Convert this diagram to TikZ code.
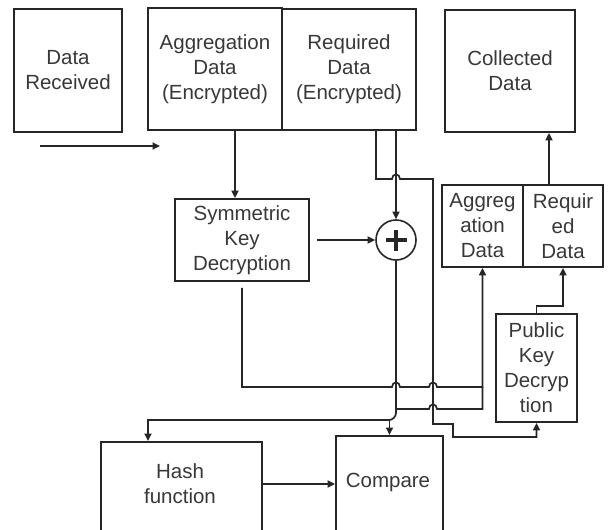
\documentclass[tikz,border=0pt]{standalone}
\usepackage{fontspec}
\setmainfont{Liberation Sans}
\usetikzlibrary{arrows.meta}
\definecolor{ink}{HTML}{262626}
\definecolor{txt}{HTML}{383838}
\begin{document}
\begin{tikzpicture}[x=1pt,y=-1pt,
  line width=1.7pt, draw=ink,
  lbl/.style={text=txt, align=center, inner sep=0pt,
    font=\fontsize{20.5}{25}\selectfont},
  box/.style={lbl, draw=ink, line width=1.8pt, rectangle},
  arr/.style={-{Triangle[length=7.5pt,width=7pt]}}
]
\useasboundingbox (0,0) rectangle (608,530);
\clip (0,0) rectangle (608,530);

% blocks
\node[box, minimum width=108pt, minimum height=123pt] (recv) at (68,70.5) {Data\\Received};
\node[box, minimum width=134pt, minimum height=122pt] (aggenc) at (215,69) {Aggregation\\Data\\(Encrypted)};
\node[box, minimum width=134pt, minimum height=121pt] (reqenc) at (349,69.5) {Required\\Data\\(Encrypted)};
\node[box, minimum width=130pt, minimum height=122pt] (coll) at (510,71) {Collected\\Data};
\node[box, minimum width=134pt, minimum height=82pt] (sym) at (242,240) {Symmetric\\Key\\Decryption};
\node[circle, draw=ink, line width=1.6pt, minimum size=40pt, inner sep=0pt] (plus) at (396,240) {};
\draw[line width=3.2pt] ([xshift=-10.5pt]plus.center) -- ([xshift=10.5pt]plus.center);
\draw[line width=3.2pt] ([yshift=-10.5pt]plus.center) -- ([yshift=10.5pt]plus.center);
\node[box, minimum width=81pt, minimum height=82pt] (aggsm) at (482.5,226) {Aggreg\\ation\\Data};
\node[box, minimum width=80pt, minimum height=82pt] (reqsm) at (563,226) {Requir\\ed\\Data};
\node[box, minimum width=81pt, minimum height=108pt] (pkd) at (536.5,368) {Public\\Key\\Decryp\\tion};
\node[box, minimum width=161pt, minimum height=130pt, anchor=north] (hash) at (181.5,441) {};
\node[lbl] (hashlbl) at (180,484) {Hash\\function};
\node[box, minimum width=107pt, minimum height=130pt, anchor=north] (cmp) at (389.5,435) {};
\node[lbl] (cmplbl) at (388,482) {Compare};

% helper points
\coordinate (inA) at (40,146);
\coordinate (inB) at (160,146);
\coordinate (symin) at ([xshift=-7pt]sym.north);
\coordinate (symout) at ([yshift=-6pt]sym.south);
\coordinate (symright) at ([xshift=7pt]sym.east);
\coordinate (rb) at ([xshift=27pt]reqenc.south);
\coordinate (split) at (cmp.north |- 0,420);
\coordinate (hin) at ([xshift=-33.5pt]hash.north);
\coordinate (rq) at ([xshift=-14pt]reqsm.north);

% connectors
\draw[arr] (inA) -- (inB);
\draw[arr] (symin |- aggenc.south) -- (symin);
\draw[arr] (symright) -- (plus.west);
\draw[arr] (plus.north |- reqenc.south) -- (plus.north);

% required data branch towards public key decryption
\draw[arr] (rb) -- (376,179) -- (392,179)
  .. controls (392,173) and (400,173) .. (400,179)
  -- (433,179) -- (433,424) -- (453,424) -- (453,437)
  -- (pkd.south |- 0,437) -- (pkd.south);

% symmetric decryption output to aggregation data
\draw[arr] (symout) -- (242,387) -- (392,387)
  .. controls (392,381) and (400,381) .. (400,387)
  -- (429,387)
  .. controls (429,381) and (437,381) .. (437,387)
  -- (aggsm.south |- 0,387) -- (aggsm.south);

% xor output
\draw (plus.south) -- (396,413) .. controls (396,417) and (392,420) .. (split);
\draw (396,409) -- (429,409)
  .. controls (429,403) and (437,403) .. (437,409)
  -- (aggsm.south |- 0,409) -- (aggsm.south |- 0,387);
\draw[arr] (split) -- (hin |- split) -- (hin);
\draw[arr] (split) -- (cmp.north);

% decrypted data upwards
\draw[arr] (pkd.north) -- (pkd.north |- 0,306) -- (reqsm.south |- 0,306) -- (reqsm.south);
\draw[arr] (rq) -- (rq |- coll.south);

% hash to compare
\draw[arr] (hash.east |- hashlbl) -- (cmp.west |- hashlbl);
\end{tikzpicture}
\end{document}
